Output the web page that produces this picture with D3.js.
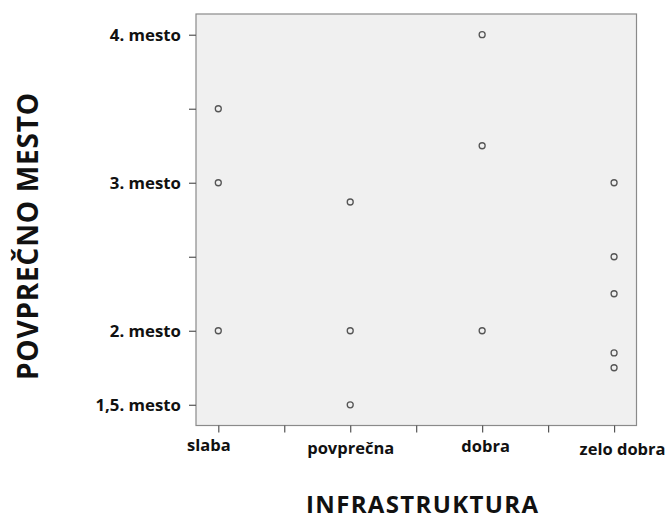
<!DOCTYPE html>
<html>
<head>
<meta charset="utf-8">
<script src="https://cdn.jsdelivr.net/npm/d3@7"></script>
<style>
  body { margin: 0; background: #fff; }
  svg { display: block; }
  text { font-family: "Open Sans", "Liberation Sans", sans-serif; font-weight: bold; fill: #111; }
</style>
</head>
<body>
<svg id="chart" width="670" height="520"></svg>
<script>
// ---- data ----
const categories = ["slaba", "povprečna", "dobra", "zelo dobra"];
const slabaValues = [3.5, 3, 2];
const povprecnaValues = [2.87, 2, 1.5];
const dobraValues = [4, 3.25, 2];
const zeloDobraValues = [3, 2.5, 2.25, 1.85, 1.75];
const yTickValues = [1.5, 2, 2.5, 3, 3.5, 4];
const yTickLabels = ["1,5. mesto", "2. mesto", "", "3. mesto", "", "4. mesto"];
const xTitle = "INFRASTRUKTURA";
const yTitle = "POVPREČNO MESTO";

(function () {
const seriesByCategory = [slabaValues, povprecnaValues, dobraValues, zeloDobraValues];
const points = [];
seriesByCategory.forEach((vals, i) => vals.forEach(v => points.push({ i, v })));

// ---- layout ----
const plotL = 196, plotR = 636.5, plotT = 14, plotB = 425.5;
const svg = d3.select("#chart");

const x = d3.scaleLinear().domain([-0.169, 3.17]).range([plotL, plotR]);
const y = d3.scaleLinear().domain([1.36, 4.14]).range([plotB, plotT]);

// plot background
svg.append("rect")
  .attr("x", plotL).attr("y", plotT)
  .attr("width", plotR - plotL).attr("height", plotB - plotT)
  .attr("fill", "#f0f0f0")
  .attr("stroke", "#8a8a8a").attr("stroke-width", 1.2);

// y axis
const yAxis = d3.axisLeft(y)
  .tickValues(yTickValues)
  .tickSize(7)
  .tickPadding(8)
  .tickFormat((d, i) => yTickLabels[i]);
const gy = svg.append("g").attr("transform", `translate(${plotL},0)`).call(yAxis);
gy.select(".domain").remove();
gy.selectAll(".tick line").attr("stroke", "#555").attr("stroke-width", 1.2);
gy.selectAll(".tick text").attr("font-size", 16.8).attr("fill", "#111")
  .attr("font-family", "'Open Sans', sans-serif").attr("font-weight", "bold");

// x axis
const xTicks = d3.range(0, 3.01, 0.5);
const xAxis = d3.axisBottom(x)
  .tickValues(xTicks)
  .tickSize(7)
  .tickPadding(8)
  .tickFormat(d => Number.isInteger(d) ? categories[d] : "");
const gx = svg.append("g").attr("transform", `translate(0,${plotB})`).call(xAxis);
gx.select(".domain").remove();
gx.selectAll(".tick line").attr("stroke", "#555").attr("stroke-width", 1.2);
const labelNudge = [[-10, -1], [0, 2], [3, 0], [8, 3]];
gx.selectAll(".tick text")
  .attr("font-size", 16.5).attr("fill", "#111")
  .attr("font-family", "'Open Sans', sans-serif").attr("font-weight", "bold")
  .attr("transform", d => Number.isInteger(d) ? `translate(${labelNudge[d][0]},${labelNudge[d][1]})` : null);

// points
svg.append("g").selectAll("circle")
  .data(points)
  .join("circle")
  .attr("cx", d => x(d.i))
  .attr("cy", d => y(d.v))
  .attr("r", 3)
  .attr("fill", "none")
  .attr("stroke", "#555")
  .attr("stroke-width", 1.3);

// titles
svg.append("text")
  .attr("x", 422).attr("y", 513)
  .attr("text-anchor", "middle")
  .attr("font-size", 24)
  .attr("textLength", 232)
  .text(xTitle);

svg.append("text")
  .attr("transform", "translate(38,236.5) rotate(-90)")
  .attr("text-anchor", "middle")
  .attr("font-size", 28)
  .attr("textLength", 287)
  .text(yTitle);
})();
</script>
</body>
</html>
